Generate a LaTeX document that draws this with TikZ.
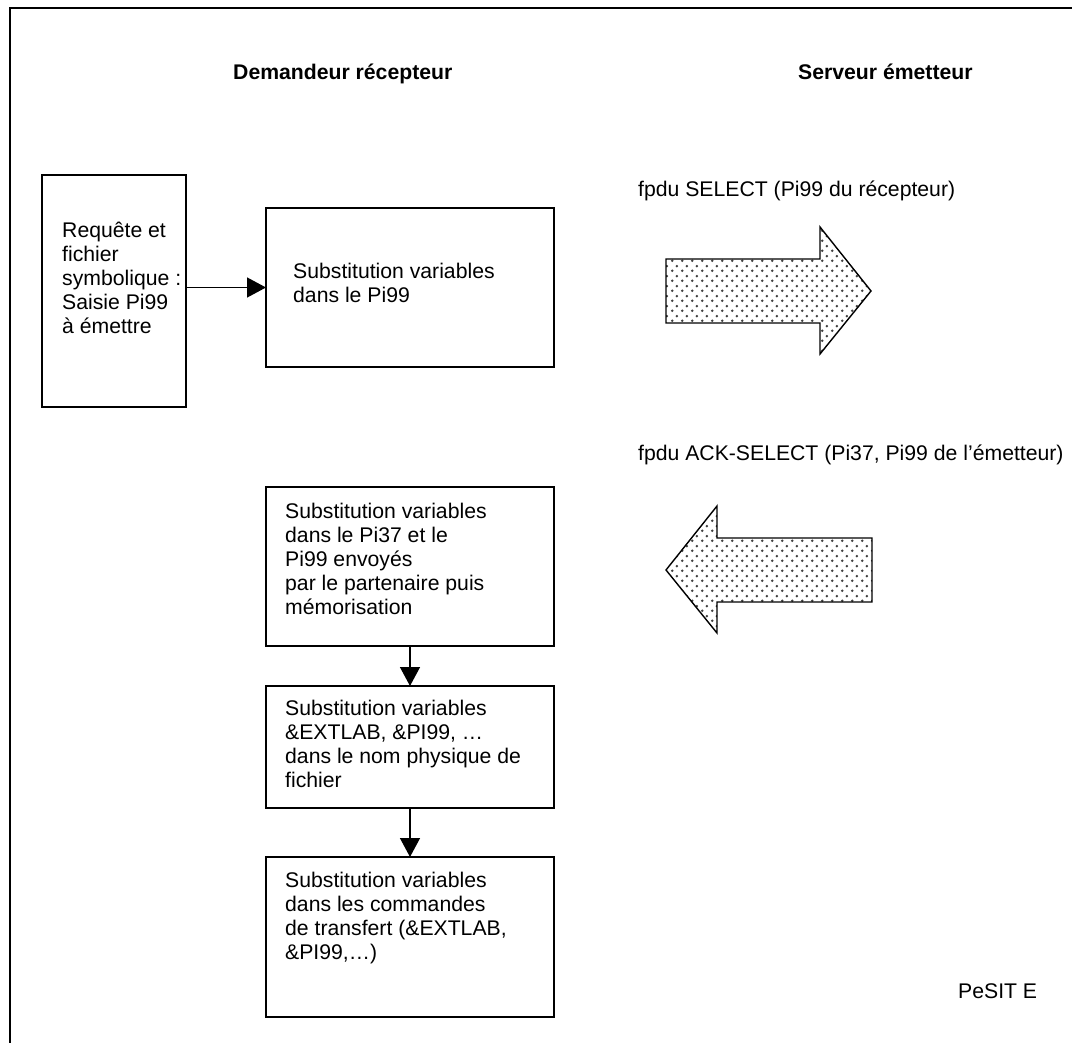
\documentclass[tikz,border=0pt]{standalone}
\usepackage{fontspec}
\setmainfont{Liberation Sans}
\usetikzlibrary{arrows.meta,patterns.meta}
\tikzdeclarepattern{name=dotfill, type=uncolored,
  bounding box={(0pt,0pt) and (10pt,10pt)}, tile size={(10pt,10pt)},
  code={\fill (2.5pt,2.5pt) circle (1.5pt); \fill (7.5pt,7.5pt) circle (1.5pt);}}
\begin{document}
\begin{tikzpicture}[x=1pt,y=-1pt,
  box/.style={draw, line width=1.6pt, rectangle, anchor=north west, inner sep=0pt, outer sep=0pt},
  txt/.style={font=\fontsize{21.2}{24}\selectfont, inner sep=0pt, align=left, anchor=north west},
  lbl/.style={font=\fontsize{21.2}{24}\selectfont, inner sep=0pt, anchor=base west},
  hdr/.style={inner sep=0pt, anchor=base west, font=\fontsize{21.2}{24}\selectfont\bfseries},
  arr/.style={line width=1.4pt, -{Triangle[length=19pt,width=20pt]}},
  bigarrow/.style={draw, line width=1.4pt, fill=white, pattern=dotfill, pattern color=black!75, line join=miter}]
\useasboundingbox (0,0) rectangle (1072,1043);
\clip (0,0) rectangle (1072,1043);
\draw[line width=1.7pt] (10,8) rectangle (1090,1060);

% headers
\node[hdr] (h1) at (233,80) {Demandeur récepteur};
\node[hdr] (h2) at (798,80) {Serveur émetteur};

% boxes
\node[box, minimum width=144pt, minimum height=232pt] (b1) at (42,175) {};
\node[box, minimum width=288pt, minimum height=159pt] (b2) at (266,208) {};
\node[box, minimum width=288pt, minimum height=159pt] (b3) at (266,487) {};
\node[box, minimum width=288pt, minimum height=122pt] (b4) at (266,686) {};
\node[box, minimum width=288pt, minimum height=160pt] (b5) at (266,857) {};

% box texts
\node[txt] (t1) at (62,219) {\rule{0pt}{18pt}Requête et\\fichier\\symbolique :\\Saisie Pi99\\à émettre};
\node[txt] (t2) at (293,260) {\rule{0pt}{18pt}Substitution variables\\dans le Pi99};
\node[txt] (t3) at (285,500) {\rule{0pt}{18pt}Substitution variables\\dans le Pi37 et le\\Pi99 envoyés\\par le partenaire puis\\mémorisation};
\node[txt] (t4) at (285,697) {\rule{0pt}{18pt}Substitution variables\\\&EXTLAB, \&PI99, …\\dans le nom physique de\\fichier};
\node[txt] (t5) at (285,869) {\rule{0pt}{18pt}Substitution variables\\dans les commandes\\de transfert (\&EXTLAB,\\\&PI99,…)};

% connectors
\draw[arr] (b1.east |- b2.west) -- (b2.west);
\draw[arr] (b3.south) -- (b4.north);
\draw[arr] (b4.south) -- (b5.north);

% message labels
\node[lbl] (m1) at (638,197) {fpdu SELECT (Pi99 du récepteur)};
\node[lbl] (m2) at (638,460) {fpdu ACK-SELECT (Pi37, Pi99 de l’émetteur)};
\node[lbl] (pe) at (958,998) {PeSIT E};

% big dotted arrows
\draw[bigarrow] (666,259) -- (820,259) -- (820,227) -- (871,291) -- (820,354) -- (820,323) -- (666,323) -- cycle;
\draw[bigarrow] (872,538) -- (717,538) -- (717,506) -- (666,570) -- (717,633) -- (717,602) -- (872,602) -- cycle;
\end{tikzpicture}
\end{document}
